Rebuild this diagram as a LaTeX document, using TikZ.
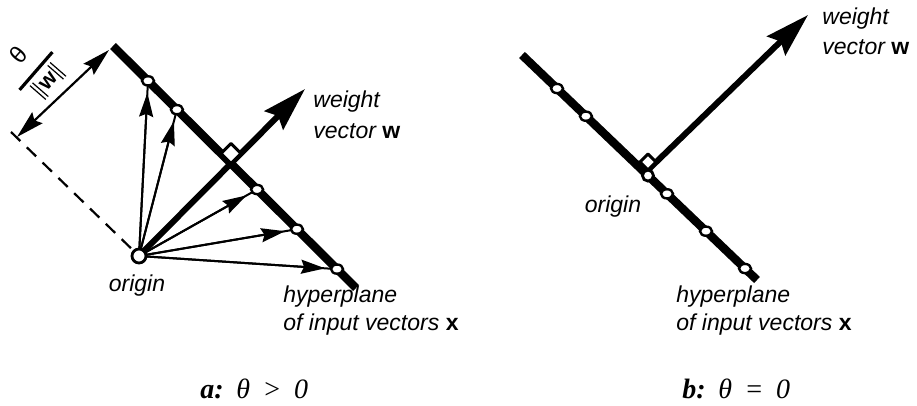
\documentclass[tikz,border=0pt]{standalone}
\usepackage{fontspec}
\setmainfont{Liberation Sans}
\newfontfamily\capfont{Liberation Serif}
\usetikzlibrary{arrows.meta,shapes.geometric,calc}
\begin{document}
\begin{tikzpicture}[x=0.5pt,y=-0.5pt,
  hyper/.style={line width=4.2pt,line cap=butt},
  wvec/.style={line width=3pt,-{Stealth[length=22pt,width=13pt,inset=3pt]}},
  invec/.style={line width=1pt},
  inhead/.style={line width=1pt,-{Stealth[length=12pt,width=7pt,inset=1.5pt]},shorten >=6pt},
  dimline/.style={line width=1.1pt,{Stealth[length=14pt,width=7.5pt,inset=2pt]}-{Stealth[length=14pt,width=7.5pt,inset=2pt]}},
  dashline/.style={line width=1.1pt,dash pattern=on 6.5pt off 4.5pt},
  ptmark/.style={ellipse,draw,fill=white,line width=1.2pt,minimum width=6pt,minimum height=4.6pt,inner sep=0pt},
  orig/.style={circle,draw,fill=white,line width=1.4pt,minimum size=7pt,inner sep=0pt},
  rmark/.style={draw,fill=white,line width=1.5pt,line join=round},
  lbl/.style={font=\fontsize{11.5}{14}\selectfont\itshape,align=left,inner sep=0pt},
  fractext/.style={font=\fontsize{11}{13}\selectfont,inner sep=0pt,rotate=49},
  captext/.style={font=\fontsize{14}{16}\selectfont\capfont,inner sep=0pt}
]
\useasboundingbox (0,0) rectangle (917,406);

% ---------------- panel a ----------------
\coordinate (ha) at (113,46);
\coordinate (hb) at (356,288);
\coordinate (oa) at (139,256);
\coordinate (wa) at (305,89);
\coordinate (a1) at ($(ha)!0.144!(hb)$);
\coordinate (a2) at ($(ha)!0.263!(hb)$);
\coordinate (a3) at ($(ha)!0.593!(hb)$);
\coordinate (a4) at ($(ha)!0.757!(hb)$);
\coordinate (a5) at ($(ha)!0.922!(hb)$);
\coordinate (da) at (11,132);
\coordinate (dd) at (17,137);
\coordinate (ta) at (109,50);
\coordinate (fb1) at (19.6,89.9);
\coordinate (fb2) at (52.4,52.1);

\draw[dashline] (da) -- (oa);
\draw[dimline] (dd) -- (ta);
\draw[hyper] (ha) -- (hb);
\foreach \p in {a1,a2,a3,a4,a5}{
  \draw[invec] (oa) -- (\p);
  \draw[inhead] (oa) -- (\p);
}
\draw[wvec] (oa) -- (wa);
\coordinate (ca) at (intersection of ha--hb and oa--wa);
\draw[rmark] (ca) -- ++(-10,-10) -- ++(10,-10) -- ++(10,10) -- cycle;
\foreach \p in {a1,a2,a3,a4,a5}{
  \node[ptmark] (n\p) at (\p) {};
}
\node[orig] (origa) at (oa) {};

% theta / ||w||
\node[fractext,font=\fontsize{12}{13}\selectfont] (theta) at (18,55) {θ};
\draw[line width=1.6pt] (fb1) -- (fb2);
\node[fractext] (normw) at (48,81)
  {\rule[-2pt]{0.6pt}{10.5pt}\hspace{1.3pt}\rule[-2pt]{0.6pt}{10.5pt}\hspace{1.2pt}\bfseries w\hspace{1.2pt}\rule[-2pt]{0.6pt}{10.5pt}\hspace{1.3pt}\rule[-2pt]{0.6pt}{10.5pt}};

\node[lbl,anchor=base west] (wla) at (313,108) {weight};
\node[lbl,anchor=base west] (wla2) at (313,139) {vector {\upshape\bfseries w}};
\node[lbl,anchor=base] (ola) at (137,292) {origin};
\node[lbl,anchor=base west] (hla) at (283,303) {hyperplane};
\node[lbl,anchor=base west] (hla2) at (283,331) {of input vectors {\upshape\bfseries x}};
\node[captext,anchor=base west] (capa) at (200,399) {\textbf{\textit{a:}}\hspace{0.45em}\textit{θ}\hspace{0.45em}\textit{>}\hspace{0.45em}\textit{0}};

% ---------------- panel b ----------------
\coordinate (hbt) at (522,55);
\coordinate (hbb) at (757,280);
\coordinate (ob) at ($(hbt)!0.536!(hbb)$);
\coordinate (cb) at (648,170);
\coordinate (wb) at (808,15);
\coordinate (b1) at ($(hbt)!0.149!(hbb)$);
\coordinate (b2) at ($(hbt)!0.272!(hbb)$);
\coordinate (b3) at ($(hbt)!0.617!(hbb)$);
\coordinate (b4) at ($(hbt)!0.783!(hbb)$);
\coordinate (b5) at ($(hbt)!0.949!(hbb)$);

\draw[hyper] (hbt) -- (hbb);
\draw[wvec] (cb) -- (wb);
\draw[rmark] (cb) -- ++(-8,-8) -- ++(8,-8) -- ++(8,8) -- cycle;
\foreach \p in {b1,b2,b3,b4,b5}{
  \node[ptmark] (n\p) at (\p) {};
}
\node[orig,minimum size=5.5pt] (origb) at (ob) {};

\node[lbl,anchor=base west] (wlb) at (822,25) {weight};
\node[lbl,anchor=base west] (wlb2) at (822,55) {vector {\upshape\bfseries w}};
\node[lbl,anchor=base] (olb) at (613,213) {origin};
\node[lbl,anchor=base west] (hlb) at (676,303) {hyperplane};
\node[lbl,anchor=base west] (hlb2) at (676,331) {of input vectors {\upshape\bfseries x}};
\node[captext,anchor=base west] (capb) at (682,399) {\textbf{\textit{b:}}\hspace{0.45em}\textit{θ}\hspace{0.45em}\textit{=}\hspace{0.45em}\textit{0}};
\end{tikzpicture}
\end{document}
